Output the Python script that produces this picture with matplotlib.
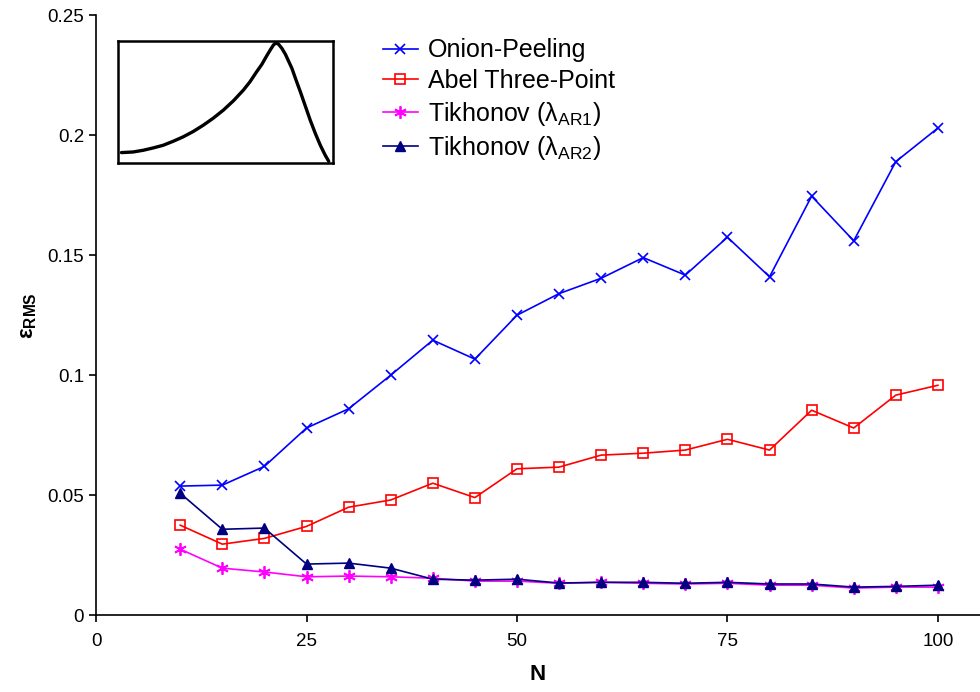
import numpy as np
import matplotlib.pyplot as plt

plt.rcParams['font.family'] = ['Liberation Sans', 'DejaVu Sans']
plt.rcParams['mathtext.fontset'] = 'custom'
plt.rcParams['mathtext.rm'] = 'Liberation Sans'
plt.rcParams['mathtext.bf'] = 'Liberation Sans:bold'

# Data
N = [10, 15, 20, 25, 30, 35, 40, 45, 50, 55, 60, 65, 70, 75, 80, 85, 90, 95, 100]
onion = [0.0538, 0.0542, 0.062, 0.078, 0.086, 0.100, 0.1146, 0.1067, 0.125, 0.134,
         0.1404, 0.149, 0.1417, 0.1575, 0.141, 0.1746, 0.156, 0.189, 0.203]
abel = [0.0375, 0.0296, 0.032, 0.037, 0.045, 0.048, 0.055, 0.049, 0.061, 0.0617,
        0.0667, 0.0675, 0.0688, 0.0733, 0.0688, 0.0854, 0.078, 0.0917, 0.0958]
tik1 = [0.0275, 0.0196, 0.018, 0.016, 0.0163, 0.016, 0.0154, 0.0142, 0.0142, 0.0133,
        0.0137, 0.0133, 0.013, 0.0133, 0.0125, 0.0125, 0.0113, 0.0117, 0.0117]
tik2 = [0.0508, 0.0358, 0.0363, 0.0213, 0.0217, 0.0196, 0.015, 0.0146, 0.015, 0.0134,
        0.0137, 0.0137, 0.0133, 0.0137, 0.013, 0.013, 0.0117, 0.012, 0.0125]

# Inset schematic profile (normalised coordinates)
prof_x = [0.016, 0.070, 0.117, 0.163, 0.210, 0.257, 0.303, 0.350, 0.397, 0.443, 0.490,
          0.537, 0.583, 0.614, 0.645, 0.669, 0.692, 0.708, 0.723, 0.734, 0.747, 0.762,
          0.778, 0.793, 0.809, 0.827, 0.848, 0.871, 0.894, 0.918, 0.941, 0.964, 0.980]
prof_y = [0.085, 0.090, 0.104, 0.123, 0.145, 0.178, 0.214, 0.258, 0.310, 0.367, 0.433,
          0.510, 0.597, 0.666, 0.748, 0.808, 0.879, 0.926, 0.967, 0.984, 0.973, 0.940,
          0.893, 0.836, 0.775, 0.685, 0.584, 0.468, 0.351, 0.241, 0.145, 0.063, 0.014]

fig = plt.figure(figsize=(9.8, 6.92), dpi=100)
ax = fig.add_axes([0.098, 0.111, 0.902, 0.867])

ax.plot(N, onion, color='#0000FF', lw=1.2, marker='x', ms=7, mew=1.2,
        label='Onion-Peeling')
ax.plot(N, abel, color='#FF0000', lw=1.2, marker='s', ms=7, mew=1.2,
        mfc='none', label='Abel Three-Point')
ax.plot(N, tik1, color='#FF00FF', lw=1.2, marker=(6, 2, 0), ms=9, mew=1.3,
        label='Tikhonov (λ$_{\\mathrm{AR1}}$)')
ax.plot(N, tik2, color='#000080', lw=1.2, marker='^', ms=7,
        label='Tikhonov (λ$_{\\mathrm{AR2}}$)')

ax.set_xlim(0, 105)
ax.set_ylim(0, 0.25)
ax.set_xticks([0, 25, 50, 75, 100])
ax.set_yticks([0, 0.05, 0.1, 0.15, 0.2, 0.25])
ax.set_yticklabels(['0', '0.05', '0.1', '0.15', '0.2', '0.25'])
ax.tick_params(labelsize=13.5, direction='out', length=5, width=1.2)
ax.tick_params(axis='x', pad=8)
ax.spines['top'].set_visible(False)
ax.spines['right'].set_visible(False)
ax.spines['left'].set_linewidth(1.2)
ax.spines['bottom'].set_linewidth(1.2)

ax.set_xlabel('N', fontsize=16, fontweight='bold', labelpad=10)
ax.set_ylabel('ε$_{\\mathbf{RMS}}$', fontsize=16, fontweight='bold', labelpad=6)

ax.legend(loc='upper left', bbox_to_anchor=(370 / 980, 1 - 26 / 692),
          bbox_transform=fig.transFigure, frameon=False, fontsize=18,
          handlelength=1.4, handletextpad=0.4, labelspacing=0.26, borderpad=0)

# Inset
ins = fig.add_axes([0.1204, 0.7645, 0.2194, 0.1763])
ins.plot(prof_x, prof_y, color='black', lw=2.4, solid_joinstyle='round',
         solid_capstyle='round')
ins.set_xlim(0, 1)
ins.set_ylim(0, 1)
ins.set_xticks([])
ins.set_yticks([])
for s in ins.spines.values():
    s.set_linewidth(1.8)

fig.savefig('out.png', dpi=100)
